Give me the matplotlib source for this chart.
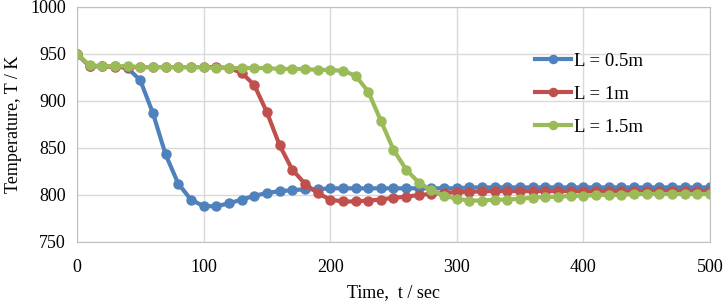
import matplotlib
matplotlib.use("Agg")
import matplotlib.pyplot as plt

# time steps, sec
time = [0, 10, 20, 30, 40, 50, 60, 70, 80, 90, 100, 110, 120, 130, 140, 150, 160, 170, 180, 190, 200,
        210, 220, 230, 240, 250, 260, 270, 280, 290, 300, 310, 320, 330, 340, 350, 360, 370, 380, 390, 400,
        410, 420, 430, 440, 450, 460, 470, 480, 490, 500]

# temperature, K
temp_05 = [950, 937, 937, 937, 935, 922, 887, 843, 812, 795, 788, 788, 791, 795, 799, 802, 804, 805, 806, 806, 807,
           807, 807, 807, 807, 807, 807, 807, 807, 807, 807, 808, 808, 808, 808, 808, 808, 808, 808, 808, 808,
           808, 808, 808, 808, 808, 808, 808, 808, 808, 808]
temp_1 = [950, 937, 937, 936, 936, 936, 936, 936, 936, 936, 936, 936, 935, 930, 917, 888, 853, 827, 812, 802, 795,
          793, 793, 794, 795, 797, 798, 800, 801, 802, 803, 803, 804, 804, 804, 804, 804, 804, 804, 804, 804,
          804, 804, 804, 804, 804, 804, 804, 804, 804, 804]
temp_15 = [950, 938, 937, 937, 937, 936, 936, 936, 936, 936, 936, 935, 935, 935, 935, 935, 934, 934, 934, 933, 933,
           932, 927, 910, 879, 848, 827, 813, 805, 799, 796, 794, 794, 795, 795, 796, 797, 798, 798, 799, 799,
           800, 800, 800, 801, 801, 801, 801, 801, 801, 801]

labels = ['L = 0.5m', 'L = 1m', 'L = 1.5m']
colors = ['#4F81BD', '#C0504D', '#9BBB59']

plt.rcParams['font.family'] = ['Liberation Serif', 'DejaVu Serif']

fig = plt.figure(figsize=(7.26, 3.02), dpi=100)
ax = fig.add_axes([0.106, 0.199, 0.872, 0.778])

for ys, lab, c in zip([temp_05, temp_1, temp_15], labels, colors):
    ax.plot(time, ys, color=c, lw=3, marker='o', ms=6.5, label=lab)

ax.set_xlim(0, 500)
ax.set_ylim(750, 1000)
ax.set_xticks([0, 100, 200, 300, 400, 500])
ax.set_yticks([750, 800, 850, 900, 950, 1000])
ax.grid(True, color='#D9D9D9', lw=1)
ax.set_axisbelow(True)
for s in ax.spines.values():
    s.set_color('#BFBFBF')
ax.tick_params(length=0, labelsize=13, pad=8)
ax.tick_params(axis='x', pad=12)

ax.set_xlabel('Time,  t / sec', fontsize=13, labelpad=6)
ax.set_ylabel('Temperature, T / K', fontsize=13, labelpad=6)

ax.legend(loc='center left', bbox_to_anchor=(535 / 726, 1 - 94 / 302), bbox_transform=fig.transFigure,
          frameon=False, fontsize=13.5, handlelength=1.9, labelspacing=0.85, handletextpad=0.2,
          borderpad=0, borderaxespad=0, markerscale=0.9)

fig.savefig('out.png', dpi=100)
